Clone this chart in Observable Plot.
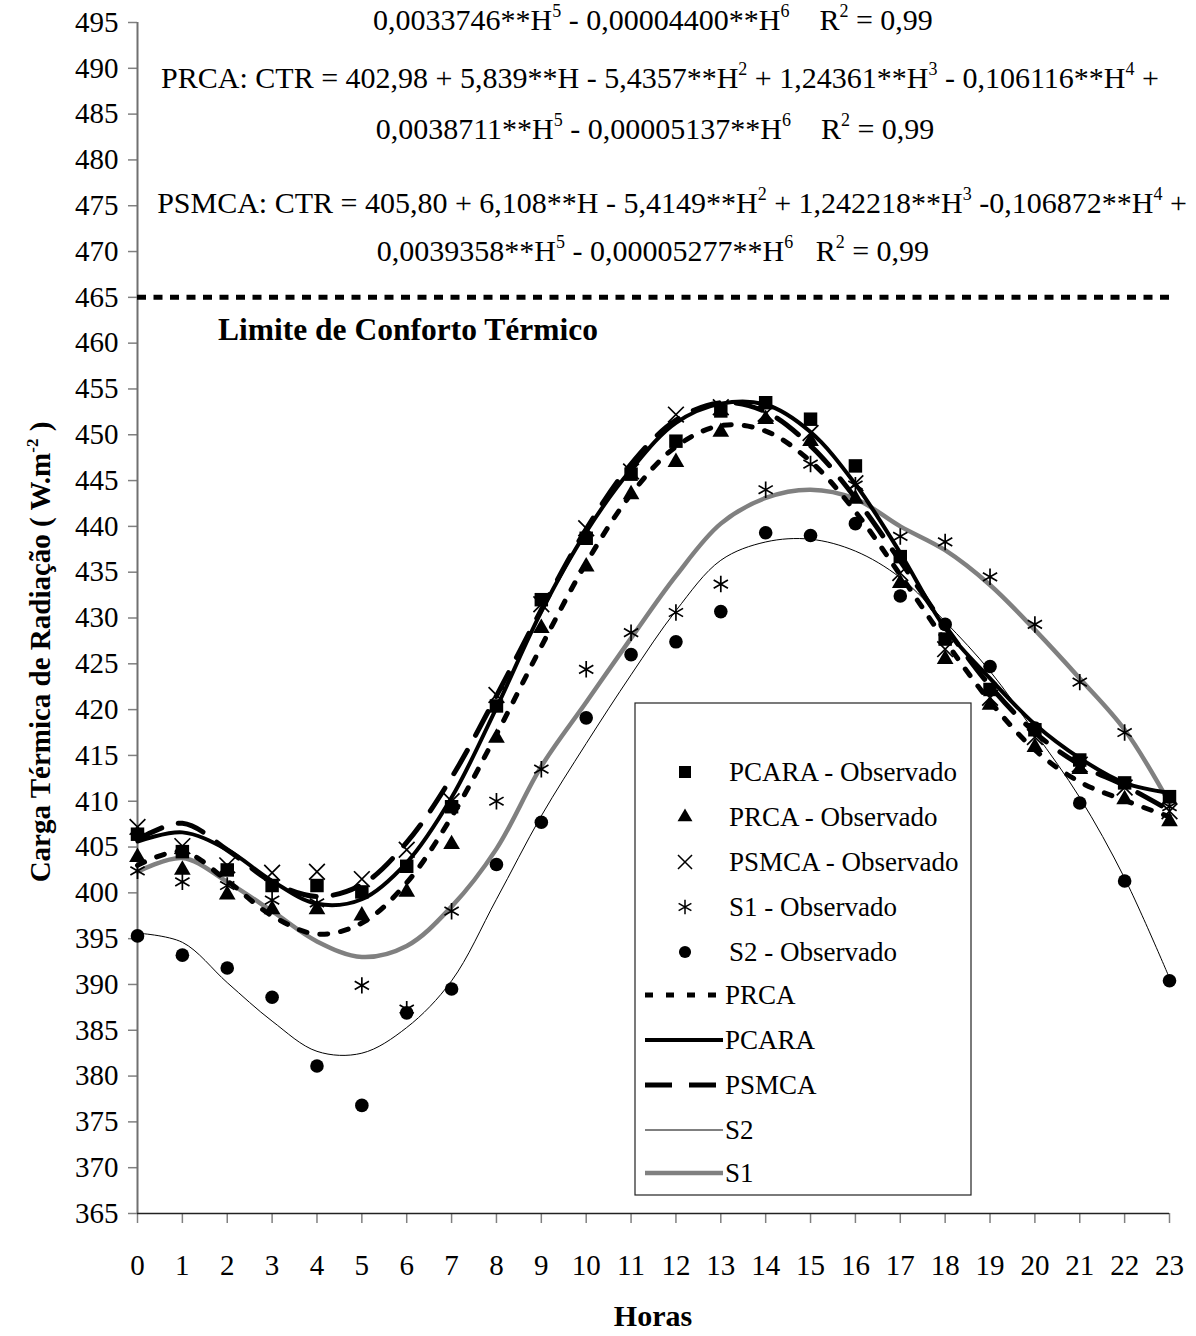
<!DOCTYPE html>
<html>
<head>
<meta charset="utf-8">
<script src="https://cdn.jsdelivr.net/npm/d3@7"></script>
<script src="https://cdn.jsdelivr.net/npm/@observablehq/plot@0.6"></script>
<style>
  body { margin: 0; background: #fff; }
  #chart svg { display: block; }
</style>
</head>
<body>
<div id="chart"></div>
<script>
// ---------- DATA ----------
const hours = [0,1,2,3,4,5,6,7,8,9,10,11,12,13,14,15,16,17,18,19,20,21,22,23];
const yTicks = [365,370,375,380,385,390,395,400,405,410,415,420,425,430,435,440,445,450,455,460,465,470,475,480,485,490,495];
const comfortLimit = 465;

// observed values
const pcaraObs = [406.4,404.5,402.5,400.8,400.8,400.1,402.9,409.4,420.4,432.0,438.7,445.7,449.3,452.6,453.5,451.7,446.6,436.7,427.7,422.2,417.8,414.5,412.0,410.5];
const prcaObs  = [403.9,402.5,399.8,398.2,398.2,397.5,400.1,405.3,416.9,428.9,435.6,443.5,447.0,450.3,451.7,449.3,443.0,433.8,425.5,420.5,415.9,413.5,410.2,407.8];
const psmcaObs = [407.2,405.1,403.0,402.2,402.3,401.5,404.7,410.0,421.6,431.5,439.8,446.0,452.2,453.0,452.3,450.2,444.7,434.9,426.6,421.3,417.0,414.0,411.5,408.9];
const s1Obs    = [402.4,401.2,400.8,399.2,398.9,389.9,387.3,398.0,410.0,413.5,424.4,428.4,430.6,433.7,444.0,446.8,444.5,438.9,438.3,434.5,429.3,423.0,417.5,409.4];
const s2Obs    = [395.3,393.2,391.8,388.6,381.1,376.8,386.9,389.5,403.1,407.7,419.1,426.0,427.4,430.7,439.3,439.0,440.3,432.4,429.3,424.7,418.0,409.8,401.3,390.4];

// fitted curves (values read at each hour)
const prcaFit  = [403.0,404.5,401.3,397.5,395.5,396.7,401.1,408.3,417.3,426.9,436.0,443.5,448.7,451.0,450.4,447.1,441.6,434.7,427.5,420.9,415.6,412.1,410.1,408.3];
const pcaraFit = [405.6,406.6,404.7,401.3,398.8,399.3,403.3,410.4,420.2,430.7,439.4,446.2,451.3,453.4,453.3,450.3,444.6,437.1,428.9,423.4,418.4,414.7,412.0,410.9];
const psmcaFit = [405.8,407.6,404.7,401.2,399.6,400.9,405.5,412.6,421.5,430.9,439.7,446.8,451.6,453.5,452.5,448.8,443.1,436.2,429.1,422.6,417.5,414.0,411.7,409.0];
const s2Fit    = [395.6,394.6,390.2,386.0,382.7,382.5,385.3,390.4,399.3,408.4,416.3,423.8,430.8,436.3,438.3,438.6,437.3,434.4,429.6,424.2,417.5,410.4,401.6,390.7];
const s1Fit    = [402.3,403.8,401.2,398.0,394.7,393.0,394.2,398.5,404.8,413.8,420.8,427.8,434.6,440.3,443.1,444.0,443.0,440.0,437.4,433.6,428.7,423.4,417.8,409.8];

// text
const equations = [
  "0,0033746**H^5 - 0,00004400**H^6    R^2 = 0,99",
  "PRCA: CTR = 402,98 + 5,839**H - 5,4357**H^2 + 1,24361**H^3 - 0,106116**H^4 +",
  "0,0038711**H^5 - 0,00005137**H^6    R^2 = 0,99",
  "PSMCA: CTR = 405,80 + 6,108**H - 5,4149**H^2 + 1,242218**H^3 -0,106872**H^4 +",
  "0,0039358**H^5 - 0,00005277**H^6   R^2 = 0,99"
];
const limitLabel = "Limite de Conforto Térmico";
const yTitle = "Carga Térmica de Radiação ( W.m^-2 )";
const xTitle = "Horas";
const legendLabels = ["PCARA - Observado","PRCA - Observado","PSMCA - Observado","S1 - Observado","S2 - Observado","PRCA","PCARA","PSMCA","S2","S1"];

// ---------- build ----------
const FONT = "'Liberation Serif','Times New Roman',Times,serif";
const rows = arr => hours.map((h, i) => ({h, v: arr[i]}));

const lineStyles = {
  PRCA:  {stroke: "#000", strokeWidth: 5, strokeDasharray: "8,13"},
  PCARA: {stroke: "#000", strokeWidth: 4, strokeDasharray: null},
  PSMCA: {stroke: "#000", strokeWidth: 5, strokeDasharray: "27,17"},
  S2:    {stroke: "#000", strokeWidth: 1, strokeDasharray: null},
  S1:    {stroke: "#808080", strokeWidth: 4.5, strokeDasharray: null}
};
const fits = {PRCA: prcaFit, PCARA: pcaraFit, PSMCA: psmcaFit, S2: s2Fit, S1: s1Fit};

const markerStyles = [
  {data: pcaraObs, symbol: "square",   r: 7.6, fill: "#000", stroke: "none"},
  {data: prcaObs,  symbol: "triangle", r: 6.2, fill: "#000", stroke: "none"},
  {data: psmcaObs, symbol: "times",    r: 7.2, fill: "none", stroke: "#000"},
  {data: s1Obs,    symbol: "asterisk", r: 7.8, fill: "none", stroke: "#000"},
  {data: s2Obs,    symbol: "circle",   r: 6.8, fill: "#000", stroke: "none"}
];

const lineMarks = ["S1","S2","PRCA","PSMCA","PCARA"].map(k =>
  Plot.line(rows(fits[k]), {x: "h", y: "v", curve: "catmull-rom", ...lineStyles[k]})
);
const dotMarks = markerStyles.map(m =>
  Plot.dot(rows(m.data), {x: "h", y: "v", symbol: m.symbol, r: m.r, fill: m.fill, stroke: m.stroke, strokeWidth: 1.7})
);

const plot = Plot.plot({
  width: 1196,
  height: 1336,
  marginLeft: 137,
  marginRight: 27,
  marginTop: 22,
  marginBottom: 123,
  style: {fontFamily: FONT, background: "#fff", color: "#000"},
  x: {type: "linear", domain: [0, 23], axis: null},
  y: {type: "linear", domain: [365, 495], axis: null},
  marks: [
    Plot.axisY({ticks: yTicks, tickSize: 9, tickPadding: 10, fontSize: 29, stroke: "#808080", strokeWidth: 1.5, fill: "#000", label: null, tickFormat: d => String(d)}),
    Plot.axisX({ticks: hours, tickSize: 10, tickPadding: 31, fontSize: 29, stroke: "#808080", strokeWidth: 1.5, fill: "#000", label: null, tickFormat: d => String(d)}),
    Plot.ruleX([0], {stroke: "#707070", strokeWidth: 2}),
    Plot.ruleY([365], {stroke: "#222", strokeWidth: 1.5}),
    Plot.ruleY([comfortLimit], {stroke: "#000", strokeWidth: 5, strokeDasharray: "9,7.5"}),
    ...lineMarks,
    ...dotMarks
  ]
});

document.getElementById("chart").appendChild(plot);

// ---------- annotations ----------
const svg = d3.select(plot);
function richText(sel, str, size, bold) {
  const parts = str.split(/\^(-?\d)/);
  const shift = Math.round(size * 0.42);
  let raised = false;
  sel.attr("font-size", size).attr("font-family", FONT).attr("fill", "#000")
     .attr("font-weight", bold ? "bold" : "normal").style("white-space", "pre");
  parts.forEach((p, i) => {
    if (i % 2 === 0) {
      if (!p) return;
      const t = sel.append("tspan").text(p);
      if (raised) { t.attr("dy", shift); raised = false; }
    } else {
      const t = sel.append("tspan").text(p).attr("font-size", Math.round(size * 0.6));
      if (raised) t.attr("dy", 0); else t.attr("dy", -shift);
      raised = true;
    }
  });
  if (raised) sel.append("tspan").attr("dy", shift).text("");
  return sel;
}

const eqPos = [[653, 30], [660, 88], [655, 139], [672, 213], [653, 261]];
equations.forEach((e, i) => {
  richText(svg.append("text").attr("x", eqPos[i][0]).attr("y", eqPos[i][1]).attr("text-anchor", "middle"), e, 30, false);
});

svg.append("text")
  .attr("x", 218).attr("y", 340).attr("text-anchor", "start")
  .attr("font-family", FONT).attr("font-weight", "bold").attr("font-size", 31.5)
  .text(limitLabel);

richText(svg.append("text").attr("transform", "translate(50,652) rotate(-90)").attr("text-anchor", "middle"), yTitle, 29, true);

svg.append("text")
  .attr("x", 653).attr("y", 1326).attr("text-anchor", "middle")
  .attr("font-family", FONT).attr("font-weight", "bold").attr("font-size", 30)
  .text(xTitle);

// ---------- legend ----------
const lg = svg.append("g");
lg.append("rect").attr("x", 635).attr("y", 703).attr("width", 336).attr("height", 492)
  .attr("fill", "#fff").attr("stroke", "#222").attr("stroke-width", 1.2);
const rowY = [772, 817, 862, 907, 952, 995, 1040, 1085, 1130, 1173];
const symMap = {square: d3.symbolSquare, triangle: d3.symbolTriangle, times: d3.symbolTimes, asterisk: d3.symbolAsterisk, circle: d3.symbolCircle};
markerStyles.forEach((m, i) => {
  const size = Math.PI * m.r * m.r * 0.8;
  lg.append("path")
    .attr("transform", `translate(685,${rowY[i]})`)
    .attr("d", d3.symbol(symMap[m.symbol], size)())
    .attr("fill", m.fill).attr("stroke", m.stroke).attr("stroke-width", 1.5);
});
["PRCA","PCARA","PSMCA","S2","S1"].forEach((k, j) => {
  const st = lineStyles[k];
  lg.append("line").attr("x1", 645).attr("x2", 723).attr("y1", rowY[5 + j]).attr("y2", rowY[5 + j])
    .attr("stroke", st.stroke).attr("stroke-width", st.strokeWidth)
    .attr("stroke-dasharray", st.strokeDasharray);
});
legendLabels.forEach((t, i) => {
  lg.append("text").attr("x", i < 5 ? 729 : 725).attr("y", rowY[i]).attr("dy", "0.35em")
    .attr("text-anchor", "start")
    .attr("font-family", FONT).attr("font-size", 27).attr("fill", "#000").text(t);
});
</script>
</body>
</html>
